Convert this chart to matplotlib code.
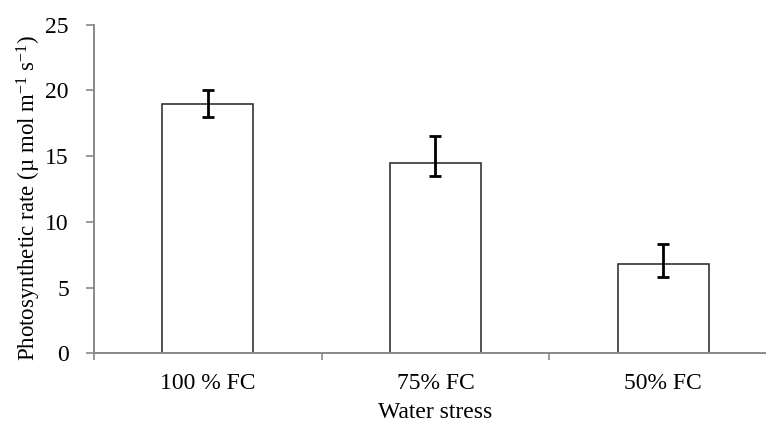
import numpy as np
import matplotlib
matplotlib.use('Agg')
import matplotlib.pyplot as plt

plt.rcParams['font.family'] = ['Liberation Serif', 'DejaVu Serif']
plt.rcParams['mathtext.fontset'] = 'custom'
plt.rcParams['mathtext.rm'] = 'Liberation Serif'
plt.rcParams['mathtext.it'] = 'Liberation Serif:italic'

treatments = ["100 % FC", "75% FC", "50% FC"]
rate = [19.0, 14.5, 6.8]
err_low = [1.0, 1.0, 1.0]
err_high = [1.0, 2.0, 1.5]

axis_grey = "#898989"

fig = plt.figure(figsize=(7.66, 4.25), dpi=100)
ax = fig.add_axes([0.1227, 0.1687, 0.8916, 0.7732])

x = np.arange(len(treatments))
ax.bar(x, rate, width=0.40, color="white", edgecolor="#333333", linewidth=1.2, zorder=2)
ax.errorbar(x, rate, yerr=[err_low, err_high], fmt="none", ecolor="black",
            elinewidth=2, capsize=4.2, capthick=2, zorder=3)

ax.set_xlim(-0.5, 2.5)
ax.set_ylim(0, 25)
ax.set_yticks([0, 5, 10, 15, 20, 25])
ax.set_xticks([-0.5, 0.5, 1.5, 2.5])
ax.set_xticklabels([])
ax.set_xticks(x, minor=True)
ax.set_xticklabels(treatments, minor=True, fontsize=17)
ax.tick_params(axis="x", which="minor", length=0, pad=14)
ax.tick_params(axis="x", which="major", length=5, width=1.2, color=axis_grey, direction="out")
ax.tick_params(axis="y", length=6, width=1.2, color=axis_grey, direction="out", labelsize=17, pad=12)

for side in ["top", "right"]:
    ax.spines[side].set_visible(False)
for side in ["left", "bottom"]:
    ax.spines[side].set_color(axis_grey)
    ax.spines[side].set_linewidth(1.4)

ax.set_xlabel("Water stress", fontsize=17)
ax.xaxis.label.set_va("baseline")
ax.xaxis.set_label_coords(0.5, -0.197)

ax.set_ylabel("Photosynthetic rate (\u00b5 mol m$^{-1}$ s$^{-1}$)", fontsize=16.5)
ax.yaxis.label.set_va("center")
ax.yaxis.set_label_coords(-0.096, 0.4726)

fig.savefig("out.png", dpi=100)
